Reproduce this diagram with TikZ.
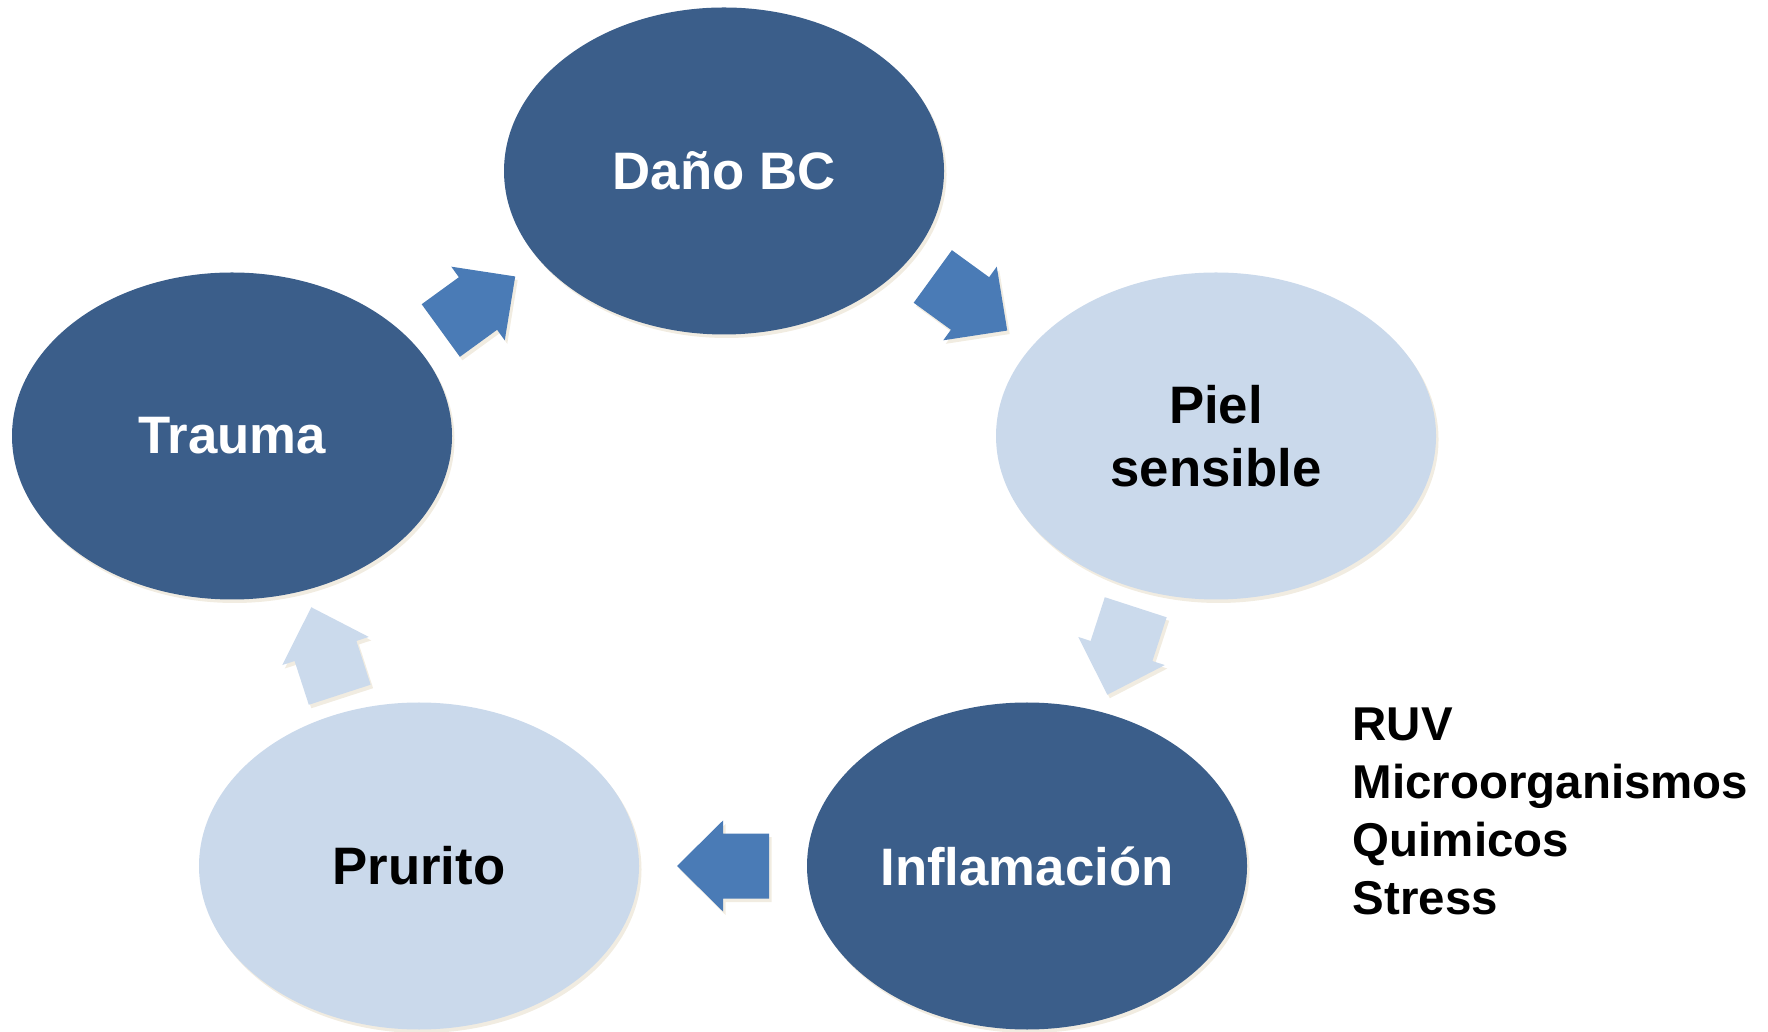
\documentclass[tikz,border=0pt]{standalone}
\usepackage{fontspec}
\setmainfont{Liberation Sans}
\usetikzlibrary{shapes.geometric, calc}
\definecolor{cDark}{HTML}{3B5E8A}
\definecolor{cLight}{HTML}{CAD9EB}
\definecolor{cArD}{HTML}{4A7BB6}
\definecolor{cArL}{HTML}{CBDAEC}
\definecolor{cShd}{HTML}{F1ECE1}

\begin{document}
\begin{tikzpicture}[
    shd/.style={preaction={fill=cShd, transform canvas={shift={(0.025,-0.035)}}}},
    el/.style={ellipse, minimum width=44mm, minimum height=32.7mm, inner sep=0pt,
               align=center, font=\fontsize{15}{18}\selectfont\bfseries, shd},
    edark/.style ={el, fill=cDark, text=white},
    elight/.style={el, fill=cLight, text=black},
    side/.style={align=left, inner sep=0pt, font=\fontsize{13.5}{16.5}\selectfont\bfseries},
    blk/.pic={\path[pic actions, shd] (-0.46,-0.325) -- (0,-0.325) -- (0,-0.455)
              -- (0.46,0) -- (0,0.455) -- (0,0.325) -- (-0.46,0.325) -- cycle;},
]
\useasboundingbox (0,0) rectangle (17.68,10.31);

% === CYCLE ===
\node[edark]  (dano)    at (7.24,8.60)  {Daño BC};
\node[elight] (piel)    at (12.16,5.95) {Piel\\sensible};
\node[edark]  (infl)    at (10.27,1.65) {Inflamación};
\node[elight] (prurito) at (4.19,1.65)  {Prurito};
\node[edark]  (trauma)  at (2.32,5.95)  {Trauma};

% block arrows, halfway between the ellipses
\pic[fill=cArD, rotate=36]   at ($(trauma)!0.5!(dano)$)  {blk};
\pic[fill=cArD, rotate=-36]  at ($(dano)!0.5!(piel)$)    {blk};
\pic[fill=cArL, rotate=-108] at ($(piel)!0.5!(infl)$)    {blk};
\pic[fill=cArD, rotate=180]  at ($(infl)!0.5!(prurito)$) {blk};
\pic[fill=cArL, rotate=108]  at ($(prurito)!0.5!(trauma)$) {blk};

% === FACTORS ===
\node[side, anchor=north west] (fact) at (13.52,3.24)
    {RUV\\Microorganismos\\Quimicos\\Stress};

\end{tikzpicture}
\end{document}
